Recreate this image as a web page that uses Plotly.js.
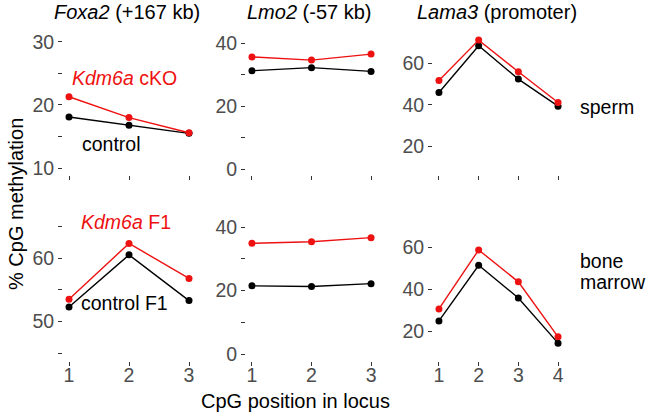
<!DOCTYPE html>
<html>
<head>
<meta charset="utf-8">
<script src="https://cdn.plot.ly/plotly-3.0.1.min.js"></script>
<style>
  body { margin: 0; background: #fff; }
  #plot { width: 646px; height: 413px; }
</style>
</head>
<body>
<div id="plot"></div>
<script>
// CpG positions per locus
const pos3 = [1, 2, 3];
const pos4 = [1, 2, 3, 4];

// sperm
const foxa2SpermKO = [21.3, 18.0, 15.6];
const foxa2SpermCtrl = [18.1, 16.8, 15.5];
const lmo2SpermKO = [35.7, 34.7, 36.6];
const lmo2SpermCtrl = [31.3, 32.3, 31.1];
const lama3SpermKO = [51.7, 71.1, 55.9, 41.2];
const lama3SpermCtrl = [46.0, 68.4, 52.4, 39.4];

// bone marrow
const foxa2BmKO = [53.5, 62.3, 56.8];
const foxa2BmCtrl = [52.3, 60.5, 53.3];
const lmo2BmKO = [34.9, 35.4, 36.7];
const lmo2BmCtrl = [21.5, 21.3, 22.2];
const lama3BmKO = [30.8, 58.9, 43.7, 17.5];
const lama3BmCtrl = [25.1, 51.6, 36.0, 14.5];

const locusTitles = ['<i>Foxa2</i> (+167 kb)', '<i>Lmo2</i> (-57 kb)', '<i>Lama3</i> (promoter)'];

const RED = '#ee1111';
const FONT = 'Liberation Sans, Arial, sans-serif';

function series(x, y, color, n) {
    return {
        x: x, y: y,
        xaxis: 'x' + (n === 1 ? '' : n),
        yaxis: 'y' + (n === 1 ? '' : n),
        mode: 'lines+markers',
        line: { color: color, width: 1.4 },
        marker: { color: color, size: 7 },
        showlegend: false,
        hoverinfo: 'x+y'
    };
}

const traces = [
    series(pos3, foxa2SpermCtrl, 'black', 1), series(pos3, foxa2SpermKO, RED, 1),
    series(pos3, lmo2SpermCtrl, 'black', 2), series(pos3, lmo2SpermKO, RED, 2),
    series(pos4, lama3SpermCtrl, 'black', 3), series(pos4, lama3SpermKO, RED, 3),
    series(pos3, foxa2BmCtrl, 'black', 4), series(pos3, foxa2BmKO, RED, 4),
    series(pos3, lmo2BmCtrl, 'black', 5), series(pos3, lmo2BmKO, RED, 5),
    series(pos4, lama3BmCtrl, 'black', 6), series(pos4, lama3BmKO, RED, 6)
];

const W = 646, H = 413;
const colsPx = [[63, 195], [246, 377], [433, 564]];
const rowsPx = [[33, 175], [218, 361]];

function xAxis(col, row, n) {
    const vals = n === 4 ? pos4 : pos3;
    return {
        domain: [colsPx[col][0] / W, colsPx[col][1] / W],
        range: n === 4 ? [0.85, 4.15] : [0.9, 3.1],
        anchor: 'y' + (row * 3 + col + 1 === 1 ? '' : row * 3 + col + 1),
        tickvals: vals,
        ticktext: row === 0 ? vals.map(() => '') : vals.map(String),
        ticks: 'outside', ticklen: 4, tickwidth: 1, tickcolor: '#333',
        ticklabelstandoff: -7,
        showgrid: false, zeroline: false, showline: false,
        tickfont: { family: FONT, size: 19.5, color: '#4d4d4d' },
        fixedrange: true
    };
}

function yAxis(col, row, range, vals, labels) {
    return {
        domain: [1 - rowsPx[row][1] / H, 1 - rowsPx[row][0] / H],
        range: range,
        anchor: 'x' + (row * 3 + col + 1 === 1 ? '' : row * 3 + col + 1),
        tickvals: vals,
        ticktext: labels,
        ticks: 'outside', ticklen: 4, tickwidth: 1, tickcolor: '#333',
        showgrid: false, zeroline: false, showline: false,
        tickfont: { family: FONT, size: 19.5, color: '#4d4d4d' },
        fixedrange: true
    };
}

const annotations = [];
locusTitles.forEach((t, i) => {
    annotations.push({
        text: t, xref: 'paper', yref: 'paper',
        x: (colsPx[i][0] + colsPx[i][1]) / 2 / W - 2 / W, y: 1 - 12 / H,
        xanchor: 'center', yanchor: 'middle', showarrow: false,
        font: { family: FONT, size: 20, color: 'black' }
    });
});

function label(text, xPx, yPx, color) {
    annotations.push({
        text: text, xref: 'paper', yref: 'paper',
        x: xPx / W, y: 1 - yPx / H,
        xanchor: 'left', yanchor: 'middle', align: 'left', showarrow: false,
        borderpad: 0,
        font: { family: FONT, size: 19.5, color: color }
    });
}

label('<i>Kdm6a</i> cKO', 71, 78, RED);
label('control', 81, 144, 'black');
label('<i>Kdm6a</i> F1', 80, 222, RED);
label('control F1', 80, 303, 'black');
label('sperm', 579, 107, 'black');
label('bone', 579, 261, 'black');
label('marrow', 579, 282, 'black');

annotations.push({
    text: '% CpG methylation', xref: 'paper', yref: 'paper',
    x: 16 / W, y: 1 - 204 / H, textangle: -90,
    xanchor: 'center', yanchor: 'middle', showarrow: false,
    font: { family: FONT, size: 20, color: 'black' }
});
annotations.push({
    text: 'CpG position in locus', xref: 'paper', yref: 'paper',
    x: 295 / W, y: 1 - 401 / H,
    xanchor: 'center', yanchor: 'middle', showarrow: false,
    font: { family: FONT, size: 20, color: 'black' }
});

const layout = {
    width: W, height: H,
    margin: { l: 0, r: 0, t: 0, b: 0 },
    paper_bgcolor: 'white', plot_bgcolor: 'white',
    font: { family: FONT },
    xaxis: xAxis(0, 0, 3), xaxis2: xAxis(1, 0, 3), xaxis3: xAxis(2, 0, 4),
    xaxis4: xAxis(0, 1, 3), xaxis5: xAxis(1, 1, 3), xaxis6: xAxis(2, 1, 4),
    yaxis: yAxis(0, 0, [8.9, 31.4], [10, 15, 20, 25, 30], ['10', '', '20', '', '30']),
    yaxis2: yAxis(1, 0, [-1.8, 43.3], [0, 10, 20, 30, 40], ['0', '', '20', '', '40']),
    yaxis3: yAxis(2, 0, [6.4, 74.5], [20, 40, 60], ['20', '40', '60']),
    yaxis4: yAxis(0, 1, [43.8, 66.3], [45, 50, 55, 60, 65], ['', '50', '', '60', '']),
    yaxis5: yAxis(1, 1, [-2.2, 42.9], [0, 10, 20, 30, 40], ['0', '', '20', '', '40']),
    yaxis6: yAxis(2, 1, [6.0, 74.1], [20, 40, 60], ['20', '40', '60']),
    annotations: annotations
};

Plotly.newPlot('plot', traces, layout, { displayModeBar: false, staticPlot: true });
</script>
</body>
</html>
